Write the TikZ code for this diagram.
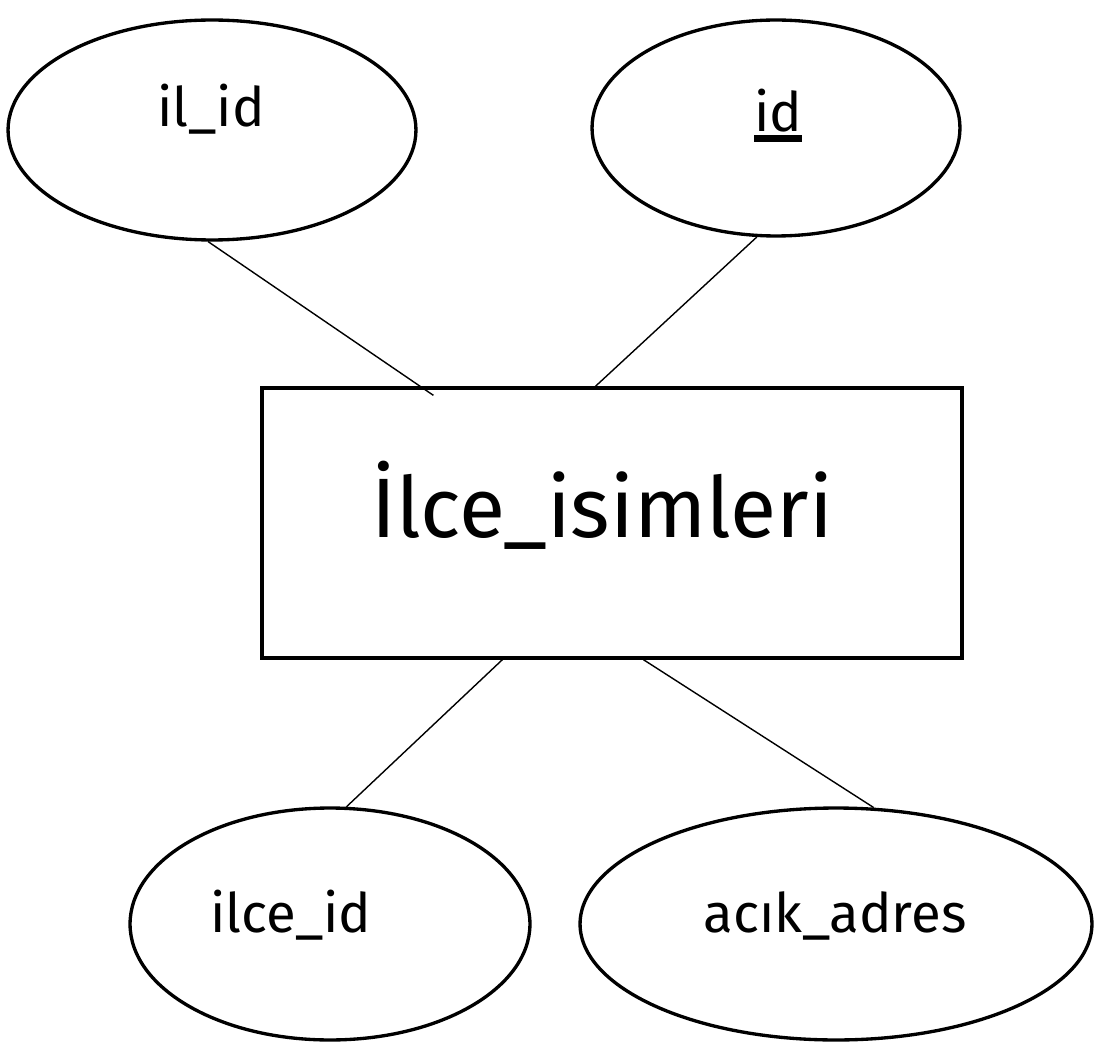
\documentclass[tikz,border=0pt]{standalone}
\usepackage{fontspec}
\setmainfont{Fira Sans}
\usepackage{tikz}
\usetikzlibrary{shapes.geometric,calc}
\newcommand\keyul[1]{\setbox0\hbox{#1}\rlap{\rule[-0.2cm]{\wd0}{0.13cm}}#1}

\begin{document}
\begin{tikzpicture}[x=0.02cm,y=-0.02cm]
            \tikzset{attr/.style = {draw, ellipse, line width=1.9pt, inner sep=0pt}}
            \tikzset{entity/.style = {draw, rectangle, line width=1.9pt, inner sep=0pt, minimum width=14cm, minimum height=5.4cm}}
            \tikzset{lbl/.style = {anchor=base, font=\fontsize{31}{36}\selectfont, inner sep=0pt}}
            \tikzset{edge/.style = {-, line width=0.8pt}}
            \useasboundingbox (0,0) rectangle (1095,1057);

            % vertices
            \node[entity] (ent) at (612,523) {};
            \node[anchor=base, font=\fontsize{48}{56}\selectfont, inner sep=0pt] (entname) at (602,537) {İlce\_isimleri};
            \node[attr, minimum width=8.16cm, minimum height=4.4cm] (ilid) at (212,130) {};
            \node[lbl] (ilidt) at (211,127) {il\_id};
            \node[attr, minimum width=7.36cm, minimum height=4.32cm] (id) at (776,128) {};
            \node[lbl] (idt) at (778,132) {\keyul{id}};
            \node[attr, minimum width=8cm, minimum height=4.64cm] (ilceid) at (330,924) {};
            \node[lbl] (ilceidt) at (291,932) {ilce\_id};
            \node[attr, minimum width=10.24cm, minimum height=4.64cm] (adres) at (836,924) {};
            \node[lbl] (adrest) at (835,932) {acık\_adres};

            % edges
            \coordinate (e1) at ($(ent.north west)+(173,9)$);
            \coordinate (e2) at ($(ent.north west)+(335,0)$);
            \coordinate (e3) at ($(ent.south west)+(242,0)$);
            \coordinate (e4) at ($(ent.south west)+(383,0)$);
            \draw[edge] (ilid.-92) to (e1);
            \draw[edge] (id.-100) to (e2);
            \draw[edge] (ilceid.82) to (e3);
            \draw[edge] (adres.72) to (e4);

          \end{tikzpicture}
\end{document}
